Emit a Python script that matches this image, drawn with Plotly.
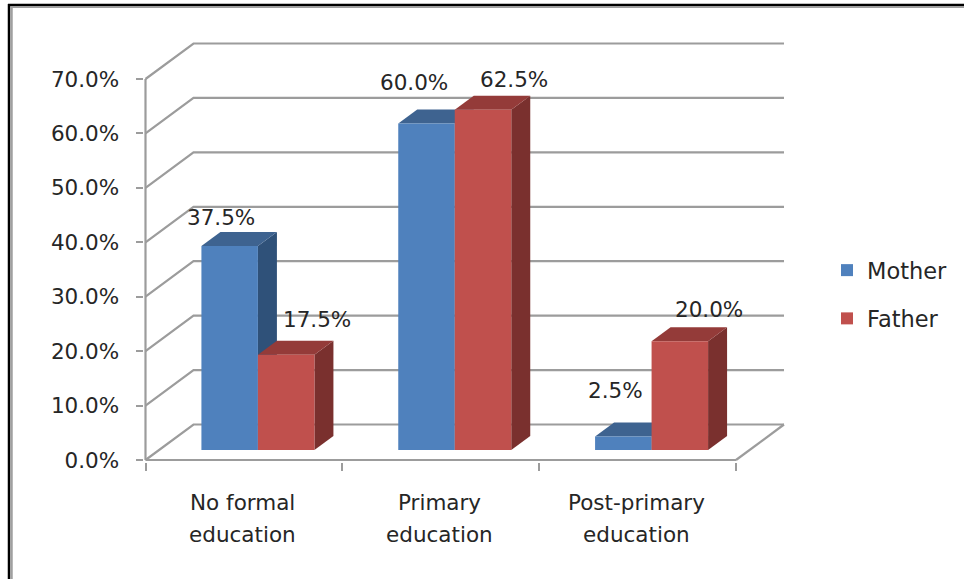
import plotly.graph_objects as go

# ---- data ----
categories = ["No formal<br>education", "Primary<br>education", "Post-primary<br>education"]
series_names = ["Mother", "Father"]
mother = [37.5, 60.0, 2.5]
father = [17.5, 62.5, 20.0]
y_ticks = [0, 10, 20, 30, 40, 50, 60, 70]
y_tick_labels = ["0.0%", "10.0%", "20.0%", "30.0%", "40.0%", "50.0%", "60.0%", "70.0%"]

# ---- style / geometry (pixels) ----
W, H = 964, 579
X0, X3 = 145.5, 736.0      # front floor left/right
Y0, Y70 = 460.0, 79.0      # front axis 0% / 70%
PAD = 2.0                  # room so that the edge lines are not clipped
UX = (X3 - X0) / 3         # px per category
UY = (Y0 - Y70) / 70       # px per percent
WALL = (48 / UX, 35.5 / UY)   # back wall depth in data units
BASE = (14 / UX, 10 / UY)     # front plane of the bars
DEPTH = (19 / UX, 14 / UY)    # bar depth
BAR_W = 56.5 / UX
FONT = "DejaVu Sans"
FS = 21.5
TXT = "#262626"
GRID = "#9C9C9C"
FRONT = ["#4F81BD", "#C0504D"]
TOP = ["#3E6390", "#943B39"]
SIDE = ["#2F5179", "#7A302E"]
# hand placed data-label offsets from the top centre of each bar (px)
LABEL_SHIFT = [[(-9, 28), (-13, 41), (-8, 46)], [(31, 35), (31, 30), (29, 32)]]

fig = go.Figure()

# back walls, side wall, floor and front axis lines
gx, gy = [], []
for t in y_ticks:
    gx += [0, WALL[0], 3 + WALL[0], None]
    gy += [t, t + WALL[1], t + WALL[1], None]
gx += [3, 3 + WALL[0], None, 0, 3, None, 0, 0, None]
gy += [0, WALL[1], None, 0, 0, None, 0, y_ticks[-1], None]
fig.add_trace(go.Scatter(x=gx, y=gy, mode="lines", line=dict(color=GRID, width=2.2),
                         showlegend=False, hoverinfo="skip", zorder=0))

z = 1
for s, values in enumerate([mother, father]):
    xs = [i + 0.5 + BASE[0] + (s - 0.5) * BAR_W for i in range(3)]
    for xc, v in zip(xs, values):
        l, r = xc - BAR_W / 2, xc + BAR_W / 2
        top = v + BASE[1]
        # side face
        fig.add_trace(go.Scatter(
            x=[r, r + DEPTH[0], r + DEPTH[0], r, r],
            y=[BASE[1], BASE[1] + DEPTH[1], top + DEPTH[1], top, BASE[1]],
            mode="lines", fill="toself", fillcolor=SIDE[s], line=dict(width=0, color=SIDE[s]),
            showlegend=False, hoverinfo="skip", zorder=z))
        # top face
        fig.add_trace(go.Scatter(
            x=[l, l + DEPTH[0], r + DEPTH[0], r, l],
            y=[top, top + DEPTH[1], top + DEPTH[1], top, top],
            mode="lines", fill="toself", fillcolor=TOP[s], line=dict(width=0, color=TOP[s]),
            showlegend=False, hoverinfo="skip", zorder=z))
    # front faces
    fig.add_trace(go.Bar(x=xs, y=values, base=BASE[1], width=BAR_W, name=series_names[s],
                         marker=dict(color=FRONT[s], line=dict(width=0)),
                         legendgroup=series_names[s], zorder=z + 1))
    z += 2

annotations = []
for s, values in enumerate([mother, father]):
    for i, v in enumerate(values):
        dx, dy = LABEL_SHIFT[s][i]
        annotations.append(dict(
            x=i + 0.5 + BASE[0] + (s - 0.5) * BAR_W, y=v + BASE[1], xref="x", yref="y",
            text=f"{v:.1f}%", showarrow=False, xshift=dx, yshift=dy,
            xanchor="center", yanchor="middle", font=dict(family=FONT, size=FS, color=TXT)))

# category labels: two lines, spaced wider than plotly's own line height
for i, c in enumerate(categories):
    for k, line in enumerate(c.split("<br>")):
        annotations.append(dict(
            x=i + 0.5 - 1.5 / UX, y=1 - (502 + 32 * k) / H, xref="x", yref="paper", text=line,
            showarrow=False, xanchor="center", yanchor="middle",
            font=dict(family=FONT, size=FS, color=TXT)))

frame = [
    dict(type="line", xref="paper", yref="paper", x0=9 / W, x1=9 / W, y0=0, y1=1 - 4 / H,
         line=dict(color="#000000", width=2.5)),
    dict(type="line", xref="paper", yref="paper", x0=11.5 / W, x1=11.5 / W, y0=0, y1=1 - 6 / H,
         line=dict(color="#A0A0A0", width=2.5)),
    dict(type="line", xref="paper", yref="paper", x0=8 / W, x1=1, y0=1 - 5 / H, y1=1 - 5 / H,
         line=dict(color="#000000", width=2.5)),
    dict(type="line", xref="paper", yref="paper", x0=10.5 / W, x1=1, y0=1 - 7 / H, y1=1 - 7 / H,
         line=dict(color="#A0A0A0", width=2)),
]

fig.update_layout(
    width=W, height=H, autosize=False,
    margin=dict(l=0, r=0, t=0, b=0, autoexpand=False),
    paper_bgcolor="#FFFFFF", plot_bgcolor="rgba(0,0,0,0)",
    barmode="overlay", annotations=annotations, shapes=frame,
    font=dict(family=FONT, size=FS, color=TXT),
    xaxis=dict(domain=[(X0 - PAD) / W, (X3 + 48 + PAD) / W],
               range=[-PAD / UX, 3 + WALL[0] + PAD / UX], tickvals=[0, 1, 2, 3],
               ticktext=["", "", "", ""], ticks="outside", ticklen=8, tickwidth=2, tickcolor=GRID,
               showgrid=False, zeroline=False, showline=False, fixedrange=True),
    yaxis=dict(domain=[1 - (Y0 + PAD) / H, 1 - (Y70 - 35.5 - PAD) / H],
               range=[-PAD / UY, 70 + WALL[1] + PAD / UY], tickvals=y_ticks, ticktext=y_tick_labels,
               ticks="outside", ticklen=7, tickwidth=2, tickcolor=GRID,
               ticklabelstandoff=12, showgrid=False, zeroline=False, showline=False,
               fixedrange=True, tickfont=dict(family=FONT, size=FS, color=TXT)),
    legend=dict(x=827 / W, y=1 - 249 / H, xanchor="left", yanchor="top", tracegroupgap=16,
                bgcolor="rgba(0,0,0,0)", font=dict(family=FONT, size=22.5, color=TXT)),
    showlegend=True,
)

fig.write_html("out.html", config={"displayModeBar": False},
               post_script="document.body.style.margin='0';document.documentElement.style.overflow='hidden';")
